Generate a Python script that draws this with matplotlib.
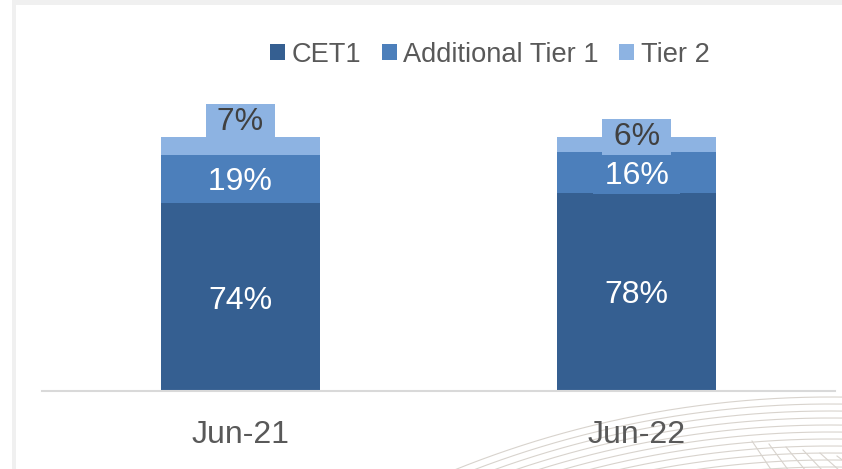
import numpy as np
import matplotlib
matplotlib.use("Agg")
import matplotlib.pyplot as plt
from matplotlib.patches import Rectangle

plt.rcParams['font.family'] = ['Liberation Sans', 'DejaVu Sans']

categories = ["Jun-21", "Jun-22"]
series_names = ["CET1", "Additional Tier 1", "Tier 2"]
cet1 = [74, 78]
at1 = [19, 16]
tier2 = [7, 6]

colors = ["#355F91", "#4C7FBB", "#8DB3E2"]
label_colors = ["white", "white", "#404040"]

W, H = 842, 469
fig = plt.figure(figsize=(W / 100, H / 100), dpi=100)

# background decoration axes (pixel coordinates)
bg = fig.add_axes([0, 0, 1, 1], zorder=0)
bg.set_xlim(0, W)
bg.set_ylim(H, 0)
bg.axis("off")
bg.add_patch(Rectangle((12, 0), W - 12, 5, color="#F0F0F0", lw=0))
bg.add_patch(Rectangle((12, 0), 4, H, color="#F0F0F0", lw=0))
cx, cy = 830, 1400
for k in range(11):
    r = 1003 - 7 * k
    xs = np.linspace(300, W + 5, 400)
    inside = r ** 2 - (xs - cx) ** 2
    ys = cy - np.sqrt(np.clip(inside, 0, None))
    m = (ys <= H + 2) & (inside > 0)
    bg.plot(xs[m], ys[m], color="#D8D3CD", lw=0.8)
for k in range(6):
    x0 = 752 + 17 * k
    bg.plot([x0, x0 + 20], [H - 28 + 3 * k, H + 2], color="#D8D3CD", lw=0.8)

# main axes
ax_left, ax_right = 42, 835
ax_bottom_px, ax_top_px = 391, 40
ax = fig.add_axes([ax_left / W, (H - ax_bottom_px) / H,
                   (ax_right - ax_left) / W, (ax_bottom_px - ax_top_px) / H], zorder=1)
ax.patch.set_alpha(0)

x = np.arange(len(categories))
width = 0.4
bottoms = np.zeros(len(categories))
segs = [cet1, at1, tier2]
bars = []
for vals, col, name in zip(segs, colors, series_names):
    ax.bar(x, vals, width, bottom=bottoms, color=col, label=name, zorder=2)
    bars.append((vals, bottoms.copy()))
    bottoms = bottoms + np.array(vals)

ax.set_xlim(-0.5, 1.5)
ax.set_ylim(0, (ax_bottom_px - ax_top_px) / 2.54)

fs = 23
# CET1 labels
for i in range(len(categories)):
    v, b = bars[0][0][i], bars[0][1][i]
    ax.text(x[i], b + v / 2, f"{v}%", ha="center", va="center_baseline",
            color=label_colors[0], fontsize=fs, zorder=3)
# AT1 labels
for i in range(len(categories)):
    v, b = bars[1][0][i], bars[1][1][i]
    ax.text(x[i], b + v / 2, f" {v}% ", ha="center", va="center_baseline",
            color=label_colors[1], fontsize=fs, zorder=3,
            bbox=dict(boxstyle="square,pad=0.08", fc=colors[1], ec="none"))
# Tier 2 labels (shifted upward as in the original)
t2_offsets = [20, 8]
for i in range(len(categories)):
    v, b = bars[2][0][i], bars[2][1][i]
    ax.annotate(f" {v}% ", (x[i], b + v / 2), xytext=(0, t2_offsets[i]),
                textcoords="offset points", ha="center", va="center_baseline",
                color=label_colors[2], fontsize=fs, zorder=4,
                bbox=dict(boxstyle="square,pad=0.08", fc=colors[2], ec="none"))

for s in ["top", "right", "left"]:
    ax.spines[s].set_visible(False)
ax.spines["bottom"].set_color("#D9D9D9")
ax.spines["bottom"].set_linewidth(1.5)
ax.set_yticks([])
ax.set_xticks(x)
ax.set_xticklabels(categories, fontsize=fs, color="#595959")
ax.tick_params(axis="x", length=0, pad=21)

leg = fig.legend(loc="center", bbox_to_anchor=(490 / W, 1 - 55 / H), ncol=3,
                 frameon=False, fontsize=19.6, handlelength=0.54, handleheight=0.54,
                 handletextpad=0.25, columnspacing=0.75, labelcolor="#595959")

fig.savefig("out.png", dpi=100)
